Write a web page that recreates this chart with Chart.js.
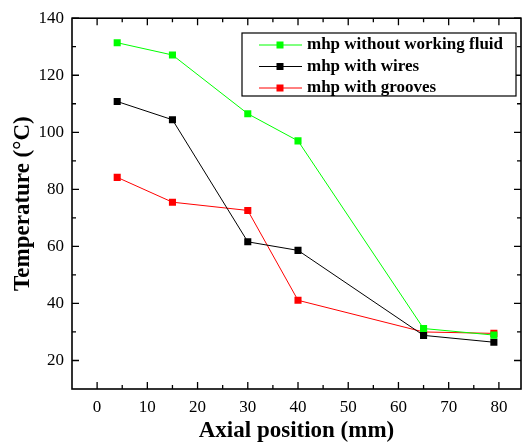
<!DOCTYPE html>
<html>
<head>
<meta charset="utf-8">
<script src="https://cdn.jsdelivr.net/npm/chart.js@4/dist/chart.umd.min.js"></script>
<style>
  html, body { margin: 0; padding: 0; background: #fff; }
  #wrap { width: 526px; height: 445px; }
</style>
</head>
<body>
<div id="wrap"><canvas id="tempChart" width="526" height="445"></canvas></div>
<script>
// axial positions of the thermocouples (mm)
var positions = [4, 15, 30, 40, 65, 79];
// temperatures (°C)
var withoutFluid = [131.4, 127.1, 106.5, 97.0, 31.2, 28.9];
var withWires = [110.8, 104.4, 61.6, 58.6, 28.8, 26.4];
var withGrooves = [84.2, 75.5, 72.6, 41.1, 30.0, 29.5];

var seriesNames = ['mhp without working fluid', 'mhp with wires', 'mhp with grooves'];
var seriesColors = ['#00ff00', '#000000', '#ff0000'];

var xTicks = [0, 10, 20, 30, 40, 50, 60, 70, 80];
var xMinor = [5, 15, 25, 35, 45, 55, 65, 75];
var yTicks = [20, 40, 60, 80, 100, 120, 140];
var yMinor = [30, 50, 70, 90, 110, 130];

function toPoints(ys) {
    var pts = [];
    for (var i = 0; i < positions.length; i++) {
        pts.push({ x: positions[i], y: ys[i] });
    }
    return pts;
}

var serif = "'Liberation Serif', 'Times New Roman', serif";

// frame with inward ticks on all four sides
var framePlugin = {
    id: 'frame',
    afterDraw: function (chart) {
        var ctx = chart.ctx;
        var a = chart.chartArea;
        var xs = chart.scales.x, ys = chart.scales.y;
        ctx.save();
        ctx.strokeStyle = '#000';
        ctx.lineWidth = 1.6;
        ctx.strokeRect(a.left, a.top, a.right - a.left, a.bottom - a.top);
        ctx.lineWidth = 1.3;
        ctx.beginPath();
        function xt(v, len) {
            var px = xs.getPixelForValue(v);
            ctx.moveTo(px, a.bottom); ctx.lineTo(px, a.bottom - len);
            ctx.moveTo(px, a.top); ctx.lineTo(px, a.top + len);
        }
        function yt(v, len) {
            var py = ys.getPixelForValue(v);
            ctx.moveTo(a.left, py); ctx.lineTo(a.left + len, py);
            ctx.moveTo(a.right, py); ctx.lineTo(a.right - len, py);
        }
        xTicks.forEach(function (v) { xt(v, 7); });
        xMinor.forEach(function (v) { xt(v, 4); });
        yTicks.forEach(function (v) { yt(v, 7); });
        yMinor.forEach(function (v) { yt(v, 4); });
        ctx.stroke();
        ctx.restore();
    }
};

// boxed legend inside the plot, top right
var boxLegend = {
    id: 'boxLegend',
    afterDraw: function (chart) {
        var ctx = chart.ctx;
        var bx = 242, by = 33, bw = 274, bh = 63;
        ctx.save();
        ctx.fillStyle = '#fff';
        ctx.fillRect(bx, by, bw, bh);
        ctx.strokeStyle = '#000';
        ctx.lineWidth = 1.2;
        ctx.strokeRect(bx, by, bw, bh);
        ctx.font = 'bold 17px ' + serif;
        ctx.textBaseline = 'middle';
        chart.data.datasets.forEach(function (ds, i) {
            var ry = 45 + i * 21.5;
            ctx.strokeStyle = ds.borderColor;
            ctx.lineWidth = 1;
            ctx.beginPath();
            ctx.moveTo(259, ry); ctx.lineTo(302, ry);
            ctx.stroke();
            ctx.fillStyle = ds.backgroundColor;
            ctx.fillRect(276.5, ry - 3.5, 7, 7);
            ctx.fillStyle = '#000';
            ctx.fillText(ds.label, 307, ry);
        });
        ctx.restore();
    }
};

var ctx = document.getElementById('tempChart').getContext('2d');
var chart = new Chart(ctx, {
    type: 'scatter',
    data: {
        datasets: [
            { label: seriesNames[0], data: toPoints(withoutFluid) },
            { label: seriesNames[1], data: toPoints(withWires) },
            { label: seriesNames[2], data: toPoints(withGrooves) }
        ].map(function (ds, i) {
            ds.showLine = true;
            ds.borderColor = seriesColors[i];
            ds.backgroundColor = seriesColors[i];
            ds.borderWidth = 1;
            ds.pointStyle = 'rect';
            ds.pointRadius = 5;
            ds.pointBorderWidth = 0;
            ds.tension = 0;
            return ds;
        })
    },
    options: {
        responsive: false,
        animation: false,
        layout: { padding: { top: 17, right: 1, left: 0, bottom: 0 } },
        plugins: {
            legend: { display: false },
            tooltip: { enabled: false }
        },
        scales: {
            x: {
                type: 'linear',
                min: -5,
                max: 84.4,
                grid: { display: false, drawTicks: false },
                border: { display: false },
                afterBuildTicks: function (scale) {
                    scale.ticks = xTicks.map(function (v) { return { value: v }; });
                },
                afterFit: function (scale) { scale.height = 56; },
                ticks: {
                    color: '#000',
                    padding: 8,
                    maxRotation: 0,
                    font: { family: serif, size: 17 }
                },
                title: {
                    display: true,
                    text: 'Axial position (mm)',
                    color: '#000',
                    padding: { top: 2, bottom: 0 },
                    font: { family: serif, size: 23, weight: 'bold' }
                }
            },
            y: {
                min: 10,
                max: 140,
                grid: { display: false, drawTicks: false },
                border: { display: false },
                afterBuildTicks: function (scale) {
                    scale.ticks = yTicks.map(function (v) { return { value: v }; });
                },
                afterFit: function (scale) { scale.width = 72; },
                ticks: {
                    color: '#000',
                    padding: 8,
                    font: { family: serif, size: 17 }
                },
                title: {
                    display: true,
                    text: 'Temperature (°C)',
                    color: '#000',
                    padding: { top: 9, bottom: 0 },
                    font: { family: serif, size: 23, weight: 'bold' }
                }
            }
        }
    },
    plugins: [framePlugin, boxLegend]
});
</script>
</body>
</html>
